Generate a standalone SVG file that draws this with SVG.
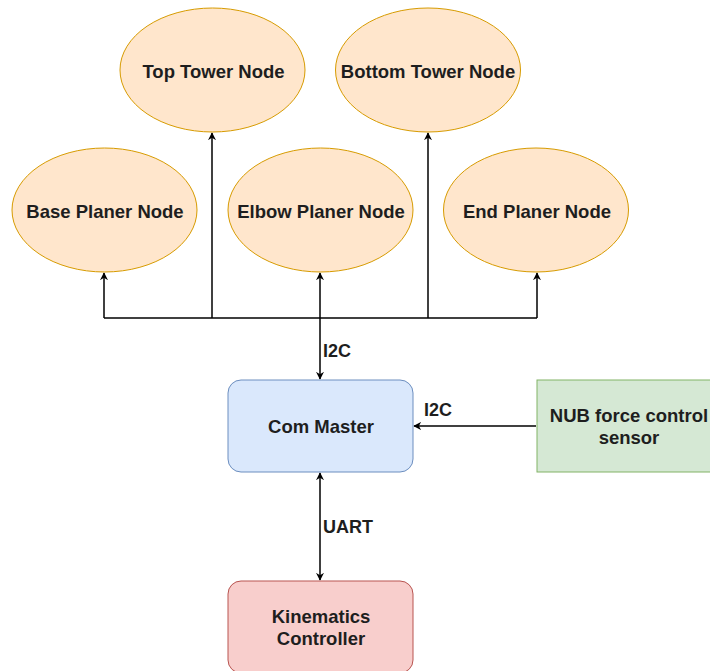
<svg xmlns="http://www.w3.org/2000/svg" width="710" height="671" viewBox="0 0 710 671">
  <style>
    .node-ell { fill: #ffe6cc; stroke: #d79b00; stroke-width: 1; }
    .blue { fill: #dae8fc; stroke: #6c8ebf; stroke-width: 1; }
    .green { fill: #d5e8d4; stroke: #82b366; stroke-width: 1; }
    .red { fill: #f8cecc; stroke: #b85450; stroke-width: 1; }
    text { font-family: "Liberation Sans", Arial, Helvetica, sans-serif; font-weight: bold; font-size: 18.5px; fill: #1e1e1e; }
    .lbl { font-size: 18px; }
    .c { text-anchor: middle; }
    .wire { fill: none; stroke: #000; stroke-width: 1.5; }
  </style>
  <defs>
    <marker id="arrow" viewBox="0 0 10 10" refX="9" refY="5" markerWidth="8" markerHeight="8" orient="auto-start-reverse" markerUnits="userSpaceOnUse">
      <path d="M0,0 L10,5 L0,10 L3,5 Z" fill="#000"/>
    </marker>
  </defs>
  <rect width="710" height="671" fill="#fff"/>

  <g id="connectors">
    <!-- I2C bus to the joint nodes -->
    <path class="wire" d="M104,318 H537"/>
    <path class="wire" d="M104,318 V273" marker-end="url(#arrow)"/>
    <path class="wire" d="M212,318 V133" marker-end="url(#arrow)"/>
    <path class="wire" d="M428,318 V133" marker-end="url(#arrow)"/>
    <path class="wire" d="M537,318 V273" marker-end="url(#arrow)"/>
    <path class="wire" d="M320,273 V379" marker-start="url(#arrow)" marker-end="url(#arrow)"/>
    <text class="lbl" x="323" y="357">I2C</text>
    <!-- force sensor link -->
    <path class="wire" d="M536,426 H414" marker-end="url(#arrow)"/>
    <text class="lbl" x="424" y="416">I2C</text>
    <!-- UART link -->
    <path class="wire" d="M320,473 V580" marker-start="url(#arrow)" marker-end="url(#arrow)"/>
    <text class="lbl" x="323" y="533">UART</text>
  </g>

  <g id="top-tower">
    <ellipse class="node-ell" cx="212.5" cy="70" rx="92.5" ry="62"/>
    <text class="c" x="213.5" y="77.5">Top Tower Node</text>
  </g>
  <g id="bottom-tower">
    <ellipse class="node-ell" cx="428" cy="70" rx="92.5" ry="62"/>
    <text class="c" x="428" y="77.5">Bottom Tower Node</text>
  </g>
  <g id="base-planer">
    <ellipse class="node-ell" cx="104.5" cy="210" rx="92.5" ry="62"/>
    <text class="c" x="105" y="217.5">Base Planer Node</text>
  </g>
  <g id="elbow-planer">
    <ellipse class="node-ell" cx="320.5" cy="210" rx="92.5" ry="62"/>
    <text class="c" x="321" y="217.5">Elbow Planer Node</text>
  </g>
  <g id="end-planer">
    <ellipse class="node-ell" cx="536" cy="210" rx="92.5" ry="62"/>
    <text class="c" x="537" y="217.5">End Planer Node</text>
  </g>

  <g id="com-master">
    <rect class="blue" x="228" y="380" width="185" height="92" rx="13"/>
    <text class="c" x="321" y="433">Com Master</text>
  </g>
  <g id="nub-sensor">
    <rect class="green" x="537" y="380" width="185" height="92"/>
    <text class="c" x="629" y="422">NUB force control</text>
    <text class="c" x="629" y="444">sensor</text>
  </g>
  <g id="kinematics">
    <rect class="red" x="228" y="581" width="185" height="92" rx="13"/>
    <text class="c" x="321" y="623">Kinematics</text>
    <text class="c" x="321" y="645">Controller</text>
  </g>
</svg>
